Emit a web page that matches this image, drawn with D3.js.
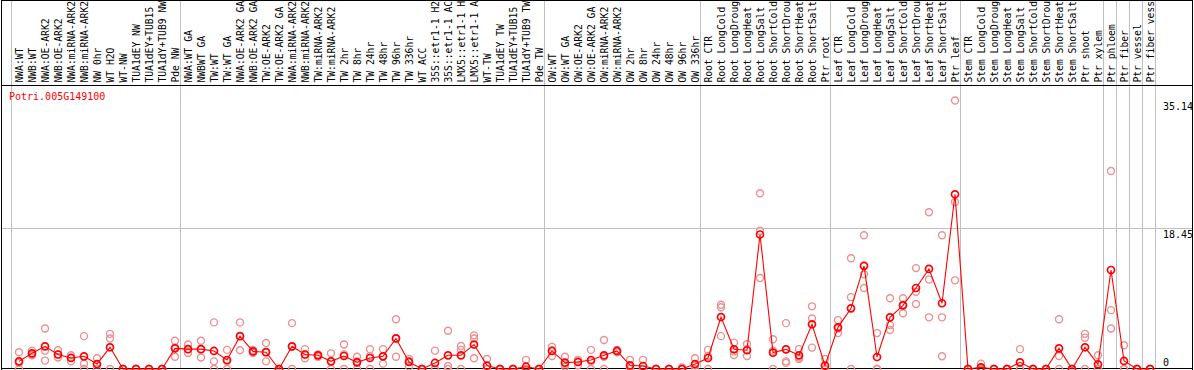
<!DOCTYPE html>
<html><head><meta charset="utf-8">
<script src="https://cdnjs.cloudflare.com/ajax/libs/d3/7.8.5/d3.min.js"></script>
<style>html,body{margin:0;padding:0;background:#fff;overflow:hidden}</style>
</head><body><div id="chart"></div>
<script>
const geneName = "Potri.005G149100";
const categories = [
"NWA:WT","NWB:WT","NWA:OE-ARK2","NWB:OE-ARK2","NWA:miRNA-ARK2","NWB:miRNA-ARK2","NW 0hr","WT H2O","WT-NW","TUA1dEY NW","TUA1dEY+TUB15 NW","TUA1dY+TUB9 NW","Pde NW",
"NWA:WT GA","NWBWT GA","TW:WT","TW:WT GA","NWA:OE-ARK2 GA","NWB:OE-ARK2 GA","TW:OE-ARK2","TW:OE-ARK2 GA","NWA:miRNA-ARK2","NWB:miRNA-ARK2","TW:miRNA-ARK2","TW:miRNA-ARK2","TW 2hr","TW 8hr","TW 24hr","TW 48hr","TW 96hr","TW 336hr","WT ACC","35S::etr1-1 H2O","35S::etr1-1 ACC","LMX5::etr1-1 H2O","LMX5::etr1-1 ACC","WT-TW","TUA1dEY TW","TUA1dEY+TUB15 TW","TUA1dY+TUB9 TW","Pde TW",
"OW:WT","OW:WT GA","OW:OE-ARK2","OW:OE-ARK2 GA","OW:miRNA-ARK2","OW:miRNA-ARK2","OW 2hr","OW 8hr","OW 24hr","OW 48hr","OW 96hr","OW 336hr",
"Root CTR","Root LongCold","Root LongDrought","Root LongHeat","Root LongSalt","Root ShortCold","Root ShortDrought","Root ShortHeat","Root ShortSalt","Ptr root",
"Leaf CTR","Leaf LongCold","Leaf LongDrought","Leaf LongHeat","Leaf LongSalt","Leaf ShortCold","Leaf ShortDrought","Leaf ShortHeat","Leaf ShortSalt","Ptr leaf",
"Stem CTR","Stem LongCold","Stem LongDrought","Stem LongHeat","Stem LongSalt","Stem ShortCold","Stem ShortDrought","Stem ShortHeat","Stem ShortSalt","Ptr shoot","Ptr xylem",
"Ptr phloem","Ptr fiber","Ptr vessel","Ptr fiber vessel"
];
// index of first category of each group (separator lines drawn before these)
const groupStarts = [0, 13, 41, 53, 63, 73, 84, 85, 86, 87, 88];
const meanValues = [
1.0,2.05,2.97,1.9,1.44,1.66,0.65,2.84,0,0,0,0,2.7,
2.6,2.6,2.36,1.18,4.3,2.3,2.2,0,2.97,1.9,1.79,1.0,1.7,0.87,1.44,1.66,4.0,0.92,0,0.79,1.79,1.79,3.2,0.44,0,0,0.3,0,
2.36,0.83,0.92,1.18,1.79,2.36,0.48,0.39,0,0,0,0.65,
1.44,6.8,2.58,2.45,17.6,2.14,2.57,1.79,5.85,0.44,
5.45,7.94,13.5,1.57,6.76,8.33,10.6,13.1,8.6,22.86,
0,0.22,0,0,0.87,0,0,2.7,0,2.84,0.6,
12.95,1.05,0,0
];
const rep1 = [
2.2,2.4,5.3,2.45,1.8,4.3,1.4,4.6,0,0,0,0,3.7,
3.2,3.7,6.1,2.5,6.1,2.5,3.4,0,6.0,2.6,1.9,2.05,3.2,1.6,2.6,2.6,6.5,1.3,0,2.4,5.0,3.0,4.4,1.3,0,0,1.2,0,
2.9,1.6,1.2,2.5,3.8,2.5,1.2,1.2,0,0,0.2,1.4,
2.5,8.4,3.45,3.27,23.0,3.9,6.0,2.6,8.2,1.3,
6.4,14.5,17.5,4.7,9.25,9.25,13.2,20.5,17.5,35.14,
0,0.7,0,0,2.6,0,0,6.5,0,4.6,1.8,
25.9,3.1,0,0
];
const rep2 = [
0.8,1.9,2.4,1.9,1.5,0.7,0.6,4.0,0,0,0,0,2.8,
2.6,2.6,1.0,1.0,4.3,2.3,2.2,0,2.9,1.9,1.8,1.0,1.9,1.0,1.7,1.7,4.0,1.0,0,0,0.4,2.5,4.0,0,0,0,0,0,
2.4,0.6,0.9,1.0,1.6,2.3,0.3,0,0,0,0,0.5,
1.7,8.07,2.3,2.6,18.1,2.4,1.0,1.5,6.6,0,
5.3,9.4,12.4,0,5.76,8.4,10.1,11.7,6.76,21.85,
0,0,0,0,0,0,0,1.7,0,4.1,0,
7.7,0,0,0
];
const rep3 = [
0,1.8,1.1,1.5,1.0,0,0,0,0,0,0,0,1.6,
2.1,1.5,0,0,2.45,2.1,1.0,0,0,1.4,1.6,0,0,0,0,0.7,1.6,0.3,0,0,0,0,1.4,0,0,0,0,0,
1.7,0.3,0.5,0,0,2.2,0,0,0,0,0,0,
0,4.3,1.83,1.7,11.9,0,0.8,1.3,2.8,0,
4.7,0,10.6,0,5.1,7.3,8.5,6.76,1.66,11.6,
0,0,0,0,0,0,0,0,0,0,0,
5.3,0,0,0
];
const yTickValues = [35.14, 18.45, 0];
const labelMaxChars = 14;

const W = 1194, H = 370;
const svg = d3.select("#chart").append("svg").attr("width", W).attr("height", H)
  .style("font-family", "'DejaVu Sans Mono', monospace");

const idx = categories.map((d, i) => i);
const x = d3.scaleBand().domain(d3.range(categories.length + 1)).range([12, 12 + 13 * (categories.length + 1)]).padding(0);
const cx = i => x(i) + 7;
const maxV = d3.max(rep1.concat(rep2, rep3, meanValues));
const y = d3.scaleLinear().domain([0, maxV * 1.05]).range([369, 87]);

// group separator lines
svg.append("g").selectAll("line").data(groupStarts).join("line")
  .attr("x1", d => x(d) - 0.5).attr("x2", d => x(d) - 0.5)
  .attr("y1", 0).attr("y2", 369)
  .attr("stroke", "#c0c0c0").attr("stroke-width", 1);

// mid grid line
const midY = Math.round(y(maxV * 1.05 / 2)) + 0.5;
svg.append("line").attr("x1", 1).attr("x2", 1193)
  .attr("y1", midY).attr("y2", midY)
  .attr("stroke", "#c0c0c0");

// frame
const frame = svg.append("g").attr("stroke", "#000").attr("stroke-width", 1).attr("shape-rendering", "crispEdges");
frame.append("line").attr("x1", 1).attr("x2", 1193).attr("y1", 0.5).attr("y2", 0.5);
frame.append("line").attr("x1", 1).attr("x2", 1193).attr("y1", 85.5).attr("y2", 85.5);
frame.append("line").attr("x1", 1).attr("x2", 1193).attr("y1", 368.5).attr("y2", 368.5);
frame.append("line").attr("x1", 1.5).attr("x2", 1.5).attr("y1", 0).attr("y2", 370);
frame.append("line").attr("x1", 1192.5).attr("x2", 1192.5).attr("y1", 0).attr("y2", 370);

// category labels (shown truncated, as in the source chart)
svg.append("g").selectAll("text").data(idx).join("text")
  .attr("transform", i => `translate(${cx(i) + 3.5},82.6) rotate(-90)`)
  .attr("font-size", 9.7).attr("fill", "#000")
  .text(i => categories[i].slice(0, labelMaxChars));

// title
svg.append("text").attr("x", 9).attr("y", 99.5).attr("font-size", 10).attr("fill", "#ff0000").text(geneName);

// y labels
svg.append("g").selectAll("text").data(yTickValues).join("text")
  .attr("x", 1163)
  .attr("y", d => Math.min(y(d) + 10, 366))
  .attr("font-size", 10).attr("fill", "#000")
  .text(d => d === 0 ? "0" : d.toFixed(2));

// replicate points
const reps = [];
[rep1, rep2, rep3].forEach(r => r.forEach((v, i) => reps.push({i, v})));
svg.append("g").selectAll("circle").data(reps).join("circle")
  .attr("cx", d => cx(d.i)).attr("cy", d => y(d.v)).attr("r", 3.5)
  .attr("fill", "none").attr("stroke", "#ec9090").attr("stroke-width", 1.4);

// mean line
svg.append("path").datum(idx)
  .attr("d", d3.line().x(i => cx(i)).y(i => y(meanValues[i])))
  .attr("fill", "none").attr("stroke", "#ff0000").attr("stroke-width", 1.1);

svg.append("g").selectAll("circle").data(idx).join("circle")
  .attr("cx", i => cx(i)).attr("cy", i => y(meanValues[i])).attr("r", 3.5)
  .attr("fill", "none").attr("stroke", "#ff0000").attr("stroke-width", 1.7);
</script>
</body></html>
